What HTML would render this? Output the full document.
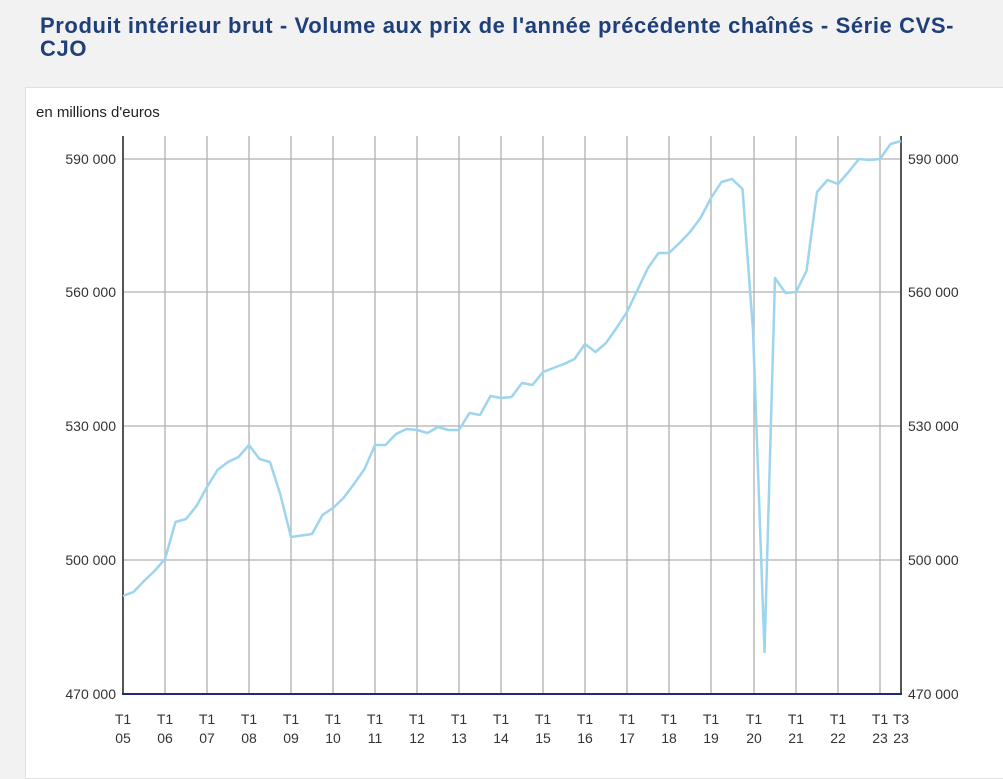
<!DOCTYPE html>
<html><head><meta charset="utf-8"><style>
body{margin:0;width:1003px;height:767px;background:#f2f2f2;font-family:"Liberation Sans",sans-serif;overflow:hidden;position:relative}
h1{position:absolute;left:40px;top:14px;margin:0;font-size:22px;line-height:23px;color:#1e3f7a;font-weight:bold;width:980px;letter-spacing:0.6px;white-space:nowrap}
.panel{position:absolute;left:25px;top:87px;width:990px;height:690px;background:#fff;border:1px solid #e2e2e2}
</style></head><body>
<h1>Produit intérieur brut - Volume aux prix de l'année précédente chaînés - Série CVS-<br>CJO</h1>
<div class="panel"></div>
<svg width="1003" height="767" style="position:absolute;left:0;top:0" font-family="Liberation Sans, sans-serif" font-size="14" fill="#333">
<text x="36" y="117" font-size="15" fill="#222">en millions d'euros</text>
<g stroke="#b0b0b0" stroke-width="1.3">
<line x1="123" y1="159" x2="901" y2="159"/><line x1="123" y1="292" x2="901" y2="292"/>
<line x1="123" y1="426" x2="901" y2="426"/><line x1="123" y1="560" x2="901" y2="560"/>
<line x1="165" y1="136" x2="165" y2="694"/><line x1="207" y1="136" x2="207" y2="694"/>
<line x1="249" y1="136" x2="249" y2="694"/><line x1="291" y1="136" x2="291" y2="694"/>
<line x1="333" y1="136" x2="333" y2="694"/><line x1="375" y1="136" x2="375" y2="694"/>
<line x1="417" y1="136" x2="417" y2="694"/><line x1="459" y1="136" x2="459" y2="694"/>
<line x1="501" y1="136" x2="501" y2="694"/><line x1="543" y1="136" x2="543" y2="694"/>
<line x1="585" y1="136" x2="585" y2="694"/><line x1="627" y1="136" x2="627" y2="694"/>
<line x1="669" y1="136" x2="669" y2="694"/><line x1="711" y1="136" x2="711" y2="694"/>
<line x1="754" y1="136" x2="754" y2="694"/><line x1="796" y1="136" x2="796" y2="694"/>
<line x1="838" y1="136" x2="838" y2="694"/><line x1="880" y1="136" x2="880" y2="694"/>
</g>
<line x1="123" y1="136" x2="123" y2="694" stroke="#555" stroke-width="2"/>
<line x1="901" y1="136" x2="901" y2="694" stroke="#555" stroke-width="2"/>
<line x1="122" y1="694" x2="902" y2="694" stroke="#1f2a7a" stroke-width="2"/>
<polyline fill="none" stroke="#9dd5ee" stroke-width="2.5" stroke-linejoin="round" points="123,596 133.5,592 144,581 154.5,571 165,559 175.5,522 186,519 196.5,506 207,487 217.5,470 228,462 238.5,457 249,445 259.5,459 270,462 280.5,495 291,537 301.5,535.5 312,534 322.5,515 333,508 343.5,498 354,484 364.5,469 375,445 385.5,445 396,434 406.5,429 417,430 427.5,433 438,427 448.5,430 459,430 469.5,413 480,415 490.5,396 501,398 511.5,397 522,383 532.5,385 543,372 553.5,368 564,364 574.5,359 585,344 595.5,352 606,343 616.5,328 627,312 637.5,290 648,268 658.5,253 669,253 679.5,243 690,232 700.5,218 711,198 721.5,182 732,179 742.5,189 753,330 764.5,652 775,278 785.5,293 796,292 806.5,271 817,192 827.5,180 838,184 848.5,172 859,159 869.5,160 880,159 890.5,144 901,141"/>
<g text-anchor="end"><text x="116" y="164">590 000</text><text x="116" y="297">560 000</text><text x="116" y="431">530 000</text><text x="116" y="565">500 000</text><text x="116" y="699">470 000</text></g>
<g><text x="908" y="164">590 000</text><text x="908" y="297">560 000</text><text x="908" y="431">530 000</text><text x="908" y="565">500 000</text><text x="908" y="699">470 000</text></g>
<g text-anchor="middle">
<text x="123" y="724">T1</text><text x="123" y="743">05</text>
<text x="165" y="724">T1</text><text x="165" y="743">06</text>
<text x="207" y="724">T1</text><text x="207" y="743">07</text>
<text x="249" y="724">T1</text><text x="249" y="743">08</text>
<text x="291" y="724">T1</text><text x="291" y="743">09</text>
<text x="333" y="724">T1</text><text x="333" y="743">10</text>
<text x="375" y="724">T1</text><text x="375" y="743">11</text>
<text x="417" y="724">T1</text><text x="417" y="743">12</text>
<text x="459" y="724">T1</text><text x="459" y="743">13</text>
<text x="501" y="724">T1</text><text x="501" y="743">14</text>
<text x="543" y="724">T1</text><text x="543" y="743">15</text>
<text x="585" y="724">T1</text><text x="585" y="743">16</text>
<text x="627" y="724">T1</text><text x="627" y="743">17</text>
<text x="669" y="724">T1</text><text x="669" y="743">18</text>
<text x="711" y="724">T1</text><text x="711" y="743">19</text>
<text x="754" y="724">T1</text><text x="754" y="743">20</text>
<text x="796" y="724">T1</text><text x="796" y="743">21</text>
<text x="838" y="724">T1</text><text x="838" y="743">22</text>
<text x="880" y="724">T1</text><text x="880" y="743">23</text>
<text x="901" y="724">T3</text><text x="901" y="743">23</text>
</g>
</svg>
</body></html>
